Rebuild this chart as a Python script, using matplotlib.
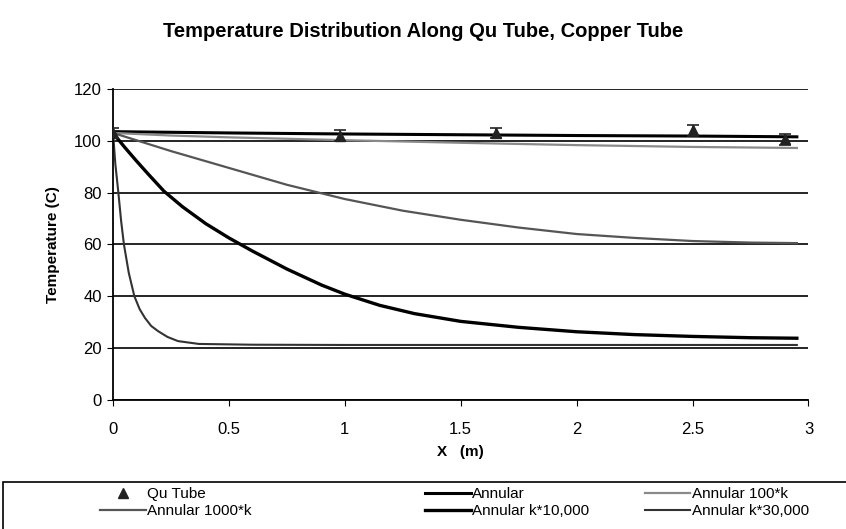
import matplotlib.pyplot as plt
from matplotlib.patches import Rectangle

plt.rcParams['font.family'] = ['Liberation Sans', 'DejaVu Sans']

# Qu Tube measurements
qu_x = [0.0, 0.98, 1.65, 2.5, 2.9]
qu_t = [103.0, 102.0, 103.0, 104.0, 100.5]
qu_err = [2.0, 2.0, 2.0, 2.0, 2.0]

# Annular model curves
ann_x = [0.0, 0.5, 1.0, 1.5, 2.0, 2.5, 2.95]
ann_t = [103.5, 103.0, 102.6, 102.3, 102.0, 101.8, 101.5]

k100_x = [0.0, 0.25, 0.5, 1.0, 1.5, 2.0, 2.5, 2.95]
k100_t = [103.0, 102.0, 101.3, 100.2, 99.2, 98.3, 97.6, 97.2]

k1000_x = [0.0, 0.25, 0.5, 0.75, 1.0, 1.25, 1.5, 1.75, 2.0, 2.25, 2.5, 2.75, 2.95]
k1000_t = [103.0, 96.0, 89.5, 83.0, 77.5, 73.0, 69.5, 66.5, 64.0, 62.5, 61.3, 60.7, 60.5]

k10000_x = [0.0, 0.05, 0.1, 0.15, 0.22, 0.3, 0.4, 0.5, 0.6, 0.75, 0.9, 1.0, 1.15,
            1.3, 1.5, 1.75, 2.0, 2.25, 2.5, 2.75, 2.95]
k10000_t = [103.0, 97.5, 92.3, 87.3, 80.5, 74.5, 68.0, 62.5, 57.5, 50.5, 44.3, 40.8, 36.5,
            33.3, 30.3, 28.0, 26.3, 25.2, 24.5, 24.0, 23.8]

k30000_x = [0.0, 0.01, 0.023, 0.035, 0.047, 0.068, 0.092, 0.115, 0.138, 0.165, 0.195,
            0.235, 0.28, 0.37, 0.6, 1.0, 2.0, 2.95]
k30000_t = [103.0, 91.0, 80.0, 69.0, 60.0, 49.0, 40.0, 35.0, 31.6, 28.5, 26.5,
            24.3, 22.7, 21.6, 21.3, 21.2, 21.2, 21.2]

fig = plt.figure(figsize=(8.46, 5.29), dpi=100)
ax = fig.add_axes([0.1336, 0.244, 0.822, 0.588])

l_ann, = ax.plot(ann_x, ann_t, color='black', lw=2.2)
l_100, = ax.plot(k100_x, k100_t, color='#8a8a8a', lw=1.6)
l_1000, = ax.plot(k1000_x, k1000_t, color='#555555', lw=1.6)
l_10000, = ax.plot(k10000_x, k10000_t, color='black', lw=2.4)
l_30000, = ax.plot(k30000_x, k30000_t, color='#333333', lw=1.5)
qu = ax.errorbar(qu_x, qu_t, yerr=qu_err, fmt='^', color='#222222', ms=7,
                 capsize=4, elinewidth=1.2, capthick=1.2, zorder=5)

ax.set_xlim(0, 3)
ax.set_ylim(0, 120)
ax.set_xticks([0, 0.5, 1, 1.5, 2, 2.5, 3])
ax.set_xticklabels(['0', '0.5', '1', '1.5', '2', '2.5', '3'])
ax.set_yticks(range(0, 121, 20))
ax.yaxis.grid(True, color='black', lw=1.2)
ax.set_axisbelow(True)
for s in ['top', 'right']:
    ax.spines[s].set_visible(False)
ax.spines['left'].set_linewidth(1.3)
ax.spines['bottom'].set_linewidth(1.3)
ax.tick_params(axis='x', direction='out', length=4, pad=12, labelsize=12)
ax.tick_params(axis='y', direction='out', length=4, pad=4, labelsize=12)

ax.set_xlabel('X   (m)', fontsize=11, fontweight='bold', labelpad=6)
ax.set_ylabel('Temperature (C)', fontsize=11, fontweight='bold', labelpad=10)
fig.text(0.5, 0.94, 'Temperature Distribution Along Qu Tube, Copper Tube',
         ha='center', va='center', fontsize=14.5, fontweight='bold')

# legend box along the bottom
fig.patches.append(Rectangle((0.003, -0.1), 1.5, 0.1 + 1 - 482 / 529,
                             transform=fig.transFigure, fill=False,
                             edgecolor='black', lw=1.2, clip_on=False))

leg_kw = dict(loc='upper left', frameon=False, fontsize=11, handlelength=3.0,
              handletextpad=0.1, labelspacing=0.2, borderpad=0, borderaxespad=0)
fig.legend([qu[0], l_1000], ['Qu Tube', 'Annular 1000*k'],
           bbox_to_anchor=(0.118, 0.079), **leg_kw)
fig.legend([l_ann, l_10000], ['Annular', 'Annular k*10,000'],
           bbox_to_anchor=(0.502, 0.079), **leg_kw)
fig.legend([l_100, l_30000], ['Annular 100*k', 'Annular k*30,000'],
           bbox_to_anchor=(0.762, 0.079), **leg_kw)

fig.savefig('out.png', dpi=100)
